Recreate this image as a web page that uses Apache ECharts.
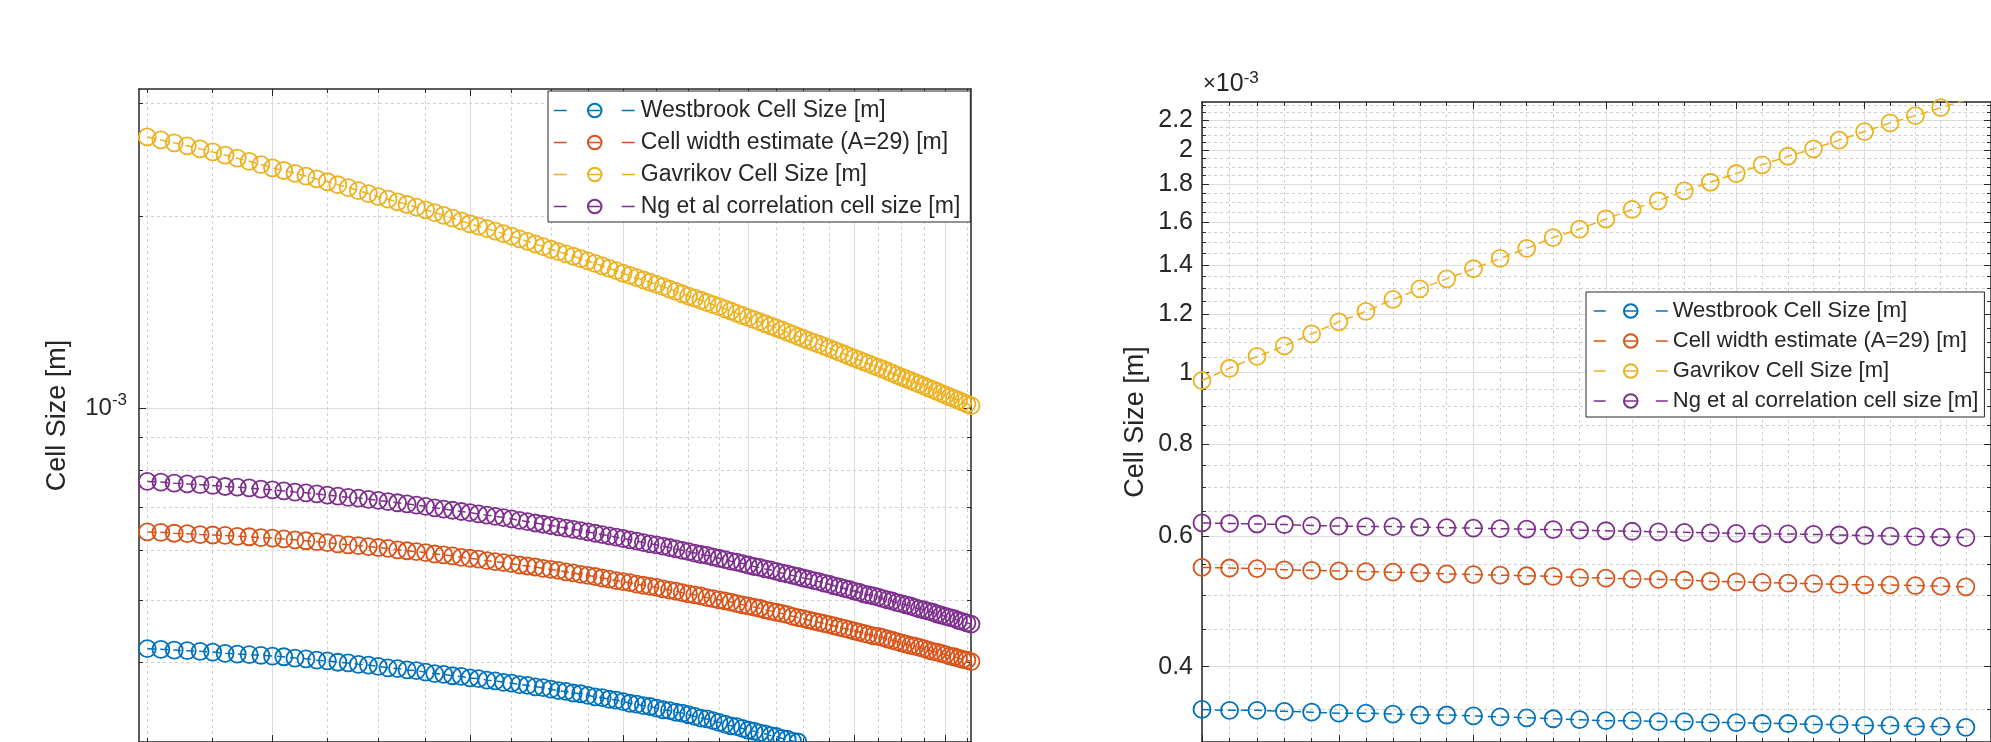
<!DOCTYPE html>
<html>
<head>
<meta charset="utf-8">
<script src="https://cdn.jsdelivr.net/npm/echarts@6/dist/echarts.min.js"></script>
<style>
html, body { margin: 0; padding: 0; background: #fff; }
#chart { width: 1991px; height: 742px; }
</style>
</head>
<body>
<div id="chart"></div>
<script>
// values are in units of 1e-3 m
var leftX = [2.50,2.55,2.60,2.65,2.70,2.75,2.80,2.85,2.90,2.95,3.00,3.05,3.10,3.15,3.20,3.25,3.30,3.35,3.40,3.45,
  3.50,3.55,3.60,3.65,3.70,3.75,3.80,3.85,3.90,3.95,4.00,4.05,4.10,4.15,4.20,4.25,4.30,4.35,4.40,4.45,
  4.50,4.55,4.60,4.65,4.70,4.75,4.80,4.85,4.90,4.95,5.00,5.05,5.10,5.15,5.20,5.25,5.30,5.35,5.40,5.45,
  5.50,5.55,5.60,5.65,5.70,5.75,5.80,5.85,5.90,5.95,6.00,6.05,6.10,6.15,6.20,6.25,6.30,6.35,6.40,6.45,
  6.50,6.55,6.60,6.65,6.70,6.75,6.80,6.85,6.90,6.95,7.00,7.05,7.10,7.15,7.20,7.25,7.30,7.35,7.40,7.45,
  7.50,7.55,7.60,7.65,7.70,7.75,7.80,7.85,7.90,7.95,8.00,8.05,8.10,8.15,8.20,8.25,8.30];

var leftWestbrook = [0.420,0.419,0.418,0.417,0.416,0.415,0.413,0.412,0.411,0.410,
  0.409,0.408,0.406,0.405,0.403,0.402,0.400,0.399,0.397,0.396,
  0.394,0.392,0.391,0.389,0.388,0.386,0.384,0.383,0.381,0.380,
  0.378,0.377,0.375,0.374,0.372,0.371,0.369,0.368,0.366,0.365,
  0.363,0.361,0.360,0.358,0.357,0.355,0.353,0.352,0.350,0.349,
  0.347,0.345,0.344,0.342,0.341,0.339,0.337,0.336,0.334,0.333,
  0.331,0.329,0.327,0.326,0.324,0.322,0.320,0.318,0.317,0.315,
  0.313,0.312,0.310,0.309,0.307,0.306,0.304,0.303,0.301,0.300,
  0.298,0.297,0.295,0.294,0.292,0.291,0.289,0.288,0.286,0.285,
  0.283,0.282,0.280,0.279,0.277,0.276,0.275,0.273,0.272,0.270,
  0.269,0.268,0.266,0.265,0.263,0.262,0.261,0.259,0.258,0.256,
  0.255,0.254,0.252,0.251,0.250,0.248,0.247];

var leftCellWidth = [0.640,0.639,0.637,0.636,0.634,0.633,0.632,0.630,0.629,0.627,
  0.626,0.624,0.622,0.620,0.618,0.616,0.613,0.611,0.609,0.607,
  0.605,0.603,0.600,0.598,0.596,0.594,0.591,0.589,0.587,0.584,
  0.582,0.580,0.577,0.575,0.573,0.571,0.568,0.566,0.564,0.561,
  0.559,0.557,0.554,0.552,0.549,0.547,0.545,0.542,0.540,0.537,
  0.535,0.533,0.530,0.528,0.526,0.524,0.521,0.519,0.517,0.514,
  0.512,0.510,0.508,0.505,0.503,0.501,0.499,0.497,0.494,0.492,
  0.490,0.488,0.486,0.483,0.481,0.479,0.477,0.475,0.472,0.470,
  0.468,0.466,0.464,0.462,0.460,0.458,0.456,0.454,0.452,0.450,
  0.448,0.446,0.444,0.442,0.440,0.439,0.437,0.435,0.433,0.431,
  0.429,0.427,0.425,0.424,0.422,0.420,0.418,0.416,0.415,0.413,
  0.411,0.409,0.408,0.406,0.404,0.403,0.401];

var leftGavrikov = [2.660,2.632,2.604,2.576,2.548,2.520,2.492,2.464,2.436,2.408,
  2.380,2.357,2.333,2.310,2.286,2.263,2.239,2.216,2.192,2.169,
  2.145,2.125,2.105,2.085,2.065,2.045,2.025,2.005,1.985,1.965,
  1.945,1.928,1.911,1.894,1.877,1.860,1.842,1.825,1.808,1.791,
  1.774,1.759,1.745,1.730,1.715,1.701,1.686,1.671,1.656,1.642,
  1.627,1.614,1.601,1.588,1.575,1.563,1.550,1.537,1.524,1.511,
  1.498,1.487,1.476,1.464,1.453,1.442,1.431,1.420,1.408,1.397,
  1.386,1.376,1.366,1.356,1.346,1.336,1.326,1.316,1.306,1.296,
  1.286,1.277,1.268,1.260,1.251,1.242,1.233,1.224,1.216,1.207,
  1.198,1.190,1.182,1.174,1.166,1.159,1.151,1.143,1.135,1.127,
  1.119,1.112,1.105,1.098,1.091,1.084,1.076,1.069,1.062,1.055,
  1.048,1.042,1.035,1.029,1.022,1.016,1.009];

var leftNg = [0.768,0.766,0.763,0.761,0.759,0.757,0.754,0.752,0.750,0.747,
  0.745,0.742,0.739,0.737,0.734,0.731,0.728,0.725,0.723,0.720,
  0.717,0.714,0.711,0.708,0.705,0.702,0.698,0.695,0.692,0.689,
  0.686,0.683,0.680,0.677,0.674,0.671,0.667,0.664,0.661,0.658,
  0.655,0.652,0.649,0.646,0.643,0.640,0.637,0.634,0.631,0.628,
  0.625,0.622,0.619,0.616,0.613,0.611,0.608,0.605,0.602,0.599,
  0.596,0.593,0.590,0.588,0.585,0.582,0.579,0.576,0.574,0.571,
  0.568,0.565,0.563,0.560,0.558,0.555,0.552,0.550,0.547,0.545,
  0.542,0.540,0.537,0.535,0.532,0.530,0.527,0.525,0.522,0.520,
  0.517,0.515,0.512,0.510,0.508,0.506,0.503,0.501,0.499,0.496,
  0.494,0.492,0.490,0.487,0.485,0.483,0.481,0.479,0.476,0.474,
  0.472,0.470,0.468,0.465,0.463,0.461,0.459];

var rightX = [300,301,302,303,304,305,306,307,308,309,310,311,312,313,314,
  315,316,317,318,319,320,321,322,323,324,325,326,327,328,329];

var rightWestbrook = [0.350,0.349,0.349,0.348,0.347,0.346,0.346,0.345,0.344,0.344,
  0.343,0.342,0.341,0.340,0.339,0.338,0.338,0.337,0.337,0.336,
  0.336,0.335,0.335,0.334,0.334,0.333,0.333,0.332,0.332,0.331];
var rightCellWidth = [0.545,0.544,0.543,0.541,0.540,0.539,0.538,0.537,0.536,0.534,
  0.533,0.532,0.531,0.530,0.528,0.527,0.526,0.525,0.524,0.522,
  0.521,0.520,0.519,0.518,0.517,0.516,0.516,0.515,0.514,0.513];
var rightGavrikov = [0.976,1.014,1.052,1.087,1.129,1.172,1.211,1.257,1.299,1.340,
  1.383,1.428,1.474,1.524,1.565,1.615,1.664,1.709,1.763,1.811,
  1.861,1.912,1.964,2.010,2.065,2.121,2.179,2.229,2.285,2.340];
var rightNg = [0.626,0.625,0.624,0.623,0.621,0.620,0.619,0.619,0.618,0.617,
  0.616,0.615,0.614,0.613,0.612,0.611,0.610,0.609,0.608,0.607,
  0.606,0.605,0.605,0.604,0.603,0.602,0.601,0.600,0.599,0.598];

var names = ['Westbrook Cell Size [m]', 'Cell width estimate (A=29) [m]',
  'Gavrikov Cell Size [m]', 'Ng et al correlation cell size [m]'];
var colors = ['#0072BD', '#D95319', '#EDB120', '#7E2F8E'];

// tick positions
var leftXMajor = [3, 4, 5, 6, 7, 8];
var leftXMinor = [2.5, 2.75, 3.25, 3.5, 3.75, 4.25, 4.5, 4.75, 5.25, 5.5, 5.75,
  6.25, 6.5, 6.75, 7.25, 7.5, 7.75, 8.25];
var leftYMajor = [1];
var leftYMinor = [0.3, 0.4, 0.5, 0.6, 0.7, 0.8, 0.9, 2, 3];
var rightXMajor = [300, 305, 310, 315, 320, 325, 330];
var rightXMinor = [301,302,303,304,306,307,308,309,311,312,313,314,316,317,318,319,
  321,322,323,324,326,327,328,329];
var rightYMajor = [0.4, 0.6, 0.8, 1, 1.2, 1.4, 1.6, 1.8, 2, 2.2];
var rightYMinor = [0.35, 0.45, 0.5, 0.55, 0.65, 0.7, 0.75, 0.85, 0.9, 0.95, 1.05, 1.1,
  1.15, 1.25, 1.3, 1.35, 1.45, 1.5, 1.55, 1.65, 1.7, 1.75, 1.85, 1.9, 1.95, 2.05,
  2.1, 2.15, 2.25, 2.3];

var FONT = 'Liberation Sans, Arial, Helvetica, sans-serif';
var INK = '#262626';

function axis(grid, pos, min, max, ticks, major, withLine, extra) {
  var a = {
    type: 'log', logBase: 10, gridIndex: grid, position: pos, min: min, max: max,
    axisLine: { show: withLine, onZero: false, lineStyle: { color: INK, width: 1.5 } },
    axisTick: { show: true, inside: true, length: major ? 7 : 4, customValues: ticks,
      lineStyle: { color: INK, width: 1 } },
    axisLabel: { show: false },
    splitLine: { show: false }
  };
  if (pos === 'bottom' || pos === 'left') {
    a.splitLine = major
      ? { show: true, lineStyle: { color: '#dcdcdc', width: 1, type: 'solid' } }
      : { show: true, lineStyle: { color: '#d0d0d0', width: 1, type: [3, 3] } };
  }
  if (extra) { for (var k in extra) a[k] = extra[k]; }
  return a;
}

var LXMIN = 2.47, LXMAX = 8.3, LYMIN = 0.3, LYMAX = 3.1623;
var RXMIN = 300, RXMAX = 330, RYMIN = 0.31623, RYMAX = 2.3258;

var nameStyle = { fontSize: 27, color: INK, fontFamily: FONT };

var xAxes = [
  axis(0, 'bottom', LXMIN, LXMAX, leftXMajor, true, true),
  axis(0, 'bottom', LXMIN, LXMAX, leftXMinor, false, false),
  axis(0, 'top', LXMIN, LXMAX, leftXMajor, true, true),
  axis(0, 'top', LXMIN, LXMAX, leftXMinor, false, false),
  axis(1, 'bottom', RXMIN, RXMAX, rightXMajor, true, true),
  axis(1, 'bottom', RXMIN, RXMAX, rightXMinor, false, false),
  axis(1, 'top', RXMIN, RXMAX, rightXMajor, true, true),
  axis(1, 'top', RXMIN, RXMAX, rightXMinor, false, false)
];

var yAxes = [
  axis(0, 'left', LYMIN, LYMAX, leftYMajor, true, true, {
    name: 'Cell Size [m]', nameLocation: 'middle', nameRotate: 90, nameGap: 68,
    nameTextStyle: nameStyle,
    axisLabel: {
      show: true, customValues: leftYMajor, margin: 12,
      formatter: function () { return '{b|10}{s|-3}'; },
      rich: {
        b: { fontSize: 24, lineHeight: 32, color: INK, fontFamily: FONT },
        s: { fontSize: 17, lineHeight: 17, verticalAlign: 'top', color: INK, fontFamily: FONT }
      }
    }
  }),
  axis(0, 'left', LYMIN, LYMAX, leftYMinor, false, false),
  axis(0, 'right', LYMIN, LYMAX, leftYMajor, true, true),
  axis(0, 'right', LYMIN, LYMAX, leftYMinor, false, false),
  axis(1, 'left', RYMIN, RYMAX, rightYMajor, true, true, {
    name: 'Cell Size [m]', nameLocation: 'middle', nameRotate: 90, nameGap: 53,
    nameTextStyle: nameStyle,
    axisLabel: {
      show: true, customValues: rightYMajor, margin: 9,
      fontSize: 25, color: INK, fontFamily: FONT,
      formatter: function (v) { return String(+Number(v).toFixed(1)); }
    }
  }),
  axis(1, 'left', RYMIN, RYMAX, rightYMinor, false, false),
  axis(1, 'right', RYMIN, RYMAX, rightYMajor, true, true),
  axis(1, 'right', RYMIN, RYMAX, rightYMinor, false, false)
];

function line(i, xs, ys, gridNo) {
  var pts = xs.map(function (x, j) { return [x, ys[j]]; });
  return {
    type: 'line', name: names[i], xAxisIndex: gridNo * 4, yAxisIndex: gridNo * 4,
    data: pts, symbol: 'circle', symbolSize: 17, showSymbol: true, clip: true,
    itemStyle: { color: 'rgba(0,0,0,0)', borderColor: colors[i], borderWidth: 1.8 },
    lineStyle: { color: colors[i], width: 1.5, type: [8, 5] },
    emphasis: { disabled: true }, silent: true
  };
}

var series = [
  line(0, leftX, leftWestbrook, 0), line(1, leftX, leftCellWidth, 0),
  line(2, leftX, leftGavrikov, 0), line(3, leftX, leftNg, 0),
  line(0, rightX, rightWestbrook, 1), line(1, rightX, rightCellWidth, 1),
  line(2, rightX, rightGavrikov, 1), line(3, rightX, rightNg, 1)
];

function legend(left, top, size, itemWidth, gap, padding, dash) {
  return {
    left: left, top: top, orient: 'vertical', data: names, selectedMode: false,
    itemWidth: itemWidth, itemHeight: 17, itemGap: gap, padding: padding,
    borderColor: INK, borderWidth: 1, backgroundColor: '#fff',
    textStyle: { fontSize: size, color: INK, fontFamily: FONT },
    lineStyle: { type: dash, width: 1.5 }
  };
}

var chart = echarts.init(document.getElementById('chart'));
chart.setOption({
  animation: false,
  backgroundColor: '#fff',
  grid: [
    { left: 139, top: 89, width: 832, height: 659 },
    { left: 1202, top: 102, width: 824, height: 643 }
  ],
  xAxis: xAxes,
  yAxis: yAxes,
  legend: [
    legend(548, 91, 23, 82, 9, [8, 10, 4, 5], [13, 21]),
    legend(1586, 292, 22, 74, 8, [8, 6, 5, 7], [12, 19])
  ],
  graphic: [{
    type: 'text', left: 1203, top: 70,
    style: {
      text: '{x|\u00d7}{b|10}{s|-3}', fill: INK,
      rich: {
        x: { fontSize: 22, lineHeight: 28, fontFamily: FONT, fill: INK },
        b: { fontSize: 25, lineHeight: 28, fontFamily: FONT, fill: INK },
        s: { fontSize: 17, lineHeight: 17, verticalAlign: 'top', fontFamily: FONT, fill: INK }
      }
    }
  }],
  series: series
});
</script>
</body>
</html>
